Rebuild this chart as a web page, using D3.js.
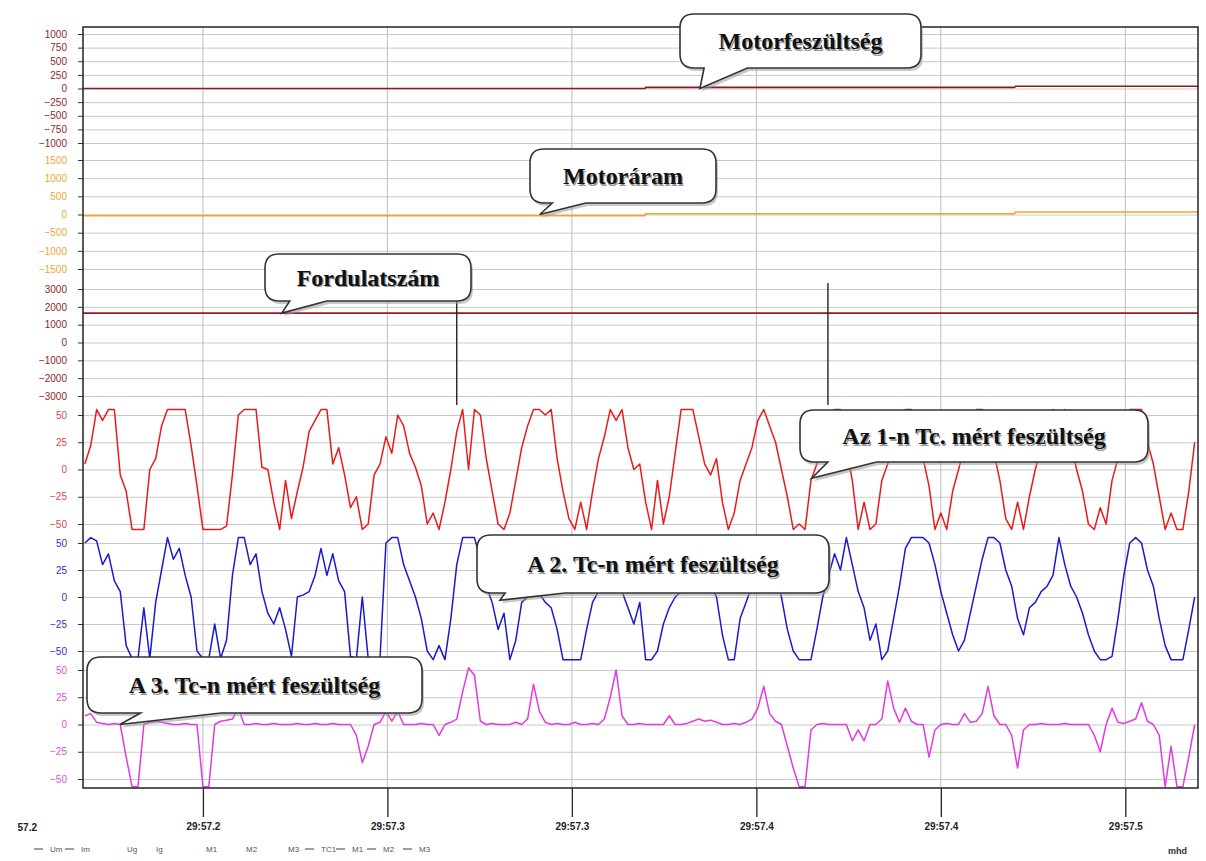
<!DOCTYPE html>
<html>
<head>
<meta charset="utf-8">
<script src="https://cdn.jsdelivr.net/npm/d3@7"></script>
<style>
  body { margin: 0; background: #fff; }
  svg { display: block; }
</style>
</head>
<body>
<div id="my_dataviz"></div>
<script>
// ---- time axis (seconds inside minute 29) ----
var timeDomain = [57.1675, 57.4697];
var timeTicks = [57.2, 57.25, 57.3, 57.35, 57.4, 57.45];
var sampleStart = 57.168, sampleStep = 0.0016;   // Tc channels are sampled on this grid

// ---- slow channels (time, value) ----
var motorTimes   = [57.1675, 57.3198, 57.3200, 57.4200, 57.4202, 57.4697];
var motorVoltage = [0, 0, 20, 20, 40, 40];
var motorCurrent = [-30, -30, 20, 20, 70, 70];
var speedTimes   = [57.1675, 57.4697];
var speedValues  = [1650, 1650];

// ---- thermocouple channels, one value per sample ----
var tc1 = [5,22,55,45,55,55,-5,-20,-55,-55,
  -55,0,10,40,55,55,55,55,22,-15,
  -55,-55,-55,-55,-52,-5,50,55,55,55,
  2,0,-30,-55,-10,-45,-20,3,35,45,
  55,55,5,20,-5,-35,-25,-55,-50,-5,
  5,30,15,50,40,15,2,-15,-50,-40,
  -55,-30,0,35,55,0,55,50,10,-20,
  -50,-55,-40,-10,20,40,55,55,50,55,
  10,-20,-45,-55,-30,-55,-20,10,30,55,
  45,55,20,0,5,-30,-55,-10,-50,-25,
  15,55,55,55,30,5,-5,10,-30,-55,
  -40,-10,5,20,45,55,40,25,0,-25,
  -55,-50,-55,-10,5,30,50,55,55,20,
  -10,-55,-30,-55,-50,-10,5,25,45,55,
  55,40,10,-15,-55,-40,-55,-20,0,20,
  40,55,55,50,15,-10,-45,-55,-30,-55,
  -25,0,20,40,55,50,55,25,0,-20,
  -50,-55,-35,-50,-10,10,35,55,55,55,
  25,5,-25,-55,-40,-55,-55,-20,25];

var tc2 = [50,55,52,30,40,15,5,-45,-57,-57,
  -10,-57,-5,25,55,35,45,20,0,-50,
  -57,-57,-25,-57,-40,20,55,55,30,40,
  5,-15,-25,-10,-30,-55,0,2,5,20,
  45,20,40,15,5,-55,-57,0,-57,-57,
  -57,50,55,55,30,15,0,-20,-50,-58,
  -45,-58,-20,30,55,55,55,35,10,-5,
  -30,-15,-58,-40,-5,0,5,3,-5,-10,
  -30,-58,-58,-58,-58,-30,-5,5,10,15,
  10,5,-10,-25,-5,-58,-58,-50,-25,-10,
  0,5,10,20,30,20,10,0,-35,-58,
  -58,-20,-5,10,20,35,45,20,0,-30,
  -50,-58,-58,-58,-30,0,20,40,25,55,
  30,5,-10,-40,-25,-58,-50,-20,10,45,
  55,55,55,50,30,5,-15,-35,-50,-40,
  -15,10,35,55,55,50,25,10,-20,-35,
  -10,-5,5,10,20,55,30,10,0,-15,
  -35,-50,-58,-58,-55,-20,20,50,55,50,
  25,10,-20,-45,-58,-58,-58,-30,0];

var tc3 = [8,10,2,1,0,1,0,-30,-57,-57,
  0,2,3,2,1,0,0,1,0,0,
  -57,-57,0,3,4,5,15,0,0,1,
  0,0,1,0,0,0,1,0,0,1,
  0,0,1,0,0,0,-10,-35,-20,0,
  2,12,3,12,0,0,0,1,0,0,
  -10,0,2,5,30,52,45,3,0,1,
  0,0,0,2,0,5,37,12,2,0,
  1,0,0,2,0,0,1,0,5,25,
  50,8,0,0,1,0,0,0,0,8,
  0,0,1,3,5,3,4,2,0,0,
  1,0,2,5,15,35,10,3,0,-20,
  -40,-57,-57,-5,0,1,0,0,0,0,
  -15,-5,-15,0,0,5,40,15,2,15,
  3,0,0,-30,-5,0,1,0,0,10,
  2,3,10,35,8,0,0,-10,-40,-5,
  0,0,1,0,0,0,1,0,0,0,
  0,-10,-25,0,15,2,1,3,5,20,
  3,0,-10,-57,-20,-57,-57,-30,0];

// ---- axis ticks ----
var voltTicks  = [1000, 750, 500, 250, 0, -250, -500, -750, -1000];
var currTicks  = [1500, 1000, 500, 0, -500, -1000, -1500];
var speedTicks = [3000, 2000, 1000, 0, -1000, -2000, -3000];
var tcTicks    = [50, 25, 0, -25, -50];

// ---- annotations ----
var calloutTexts  = ["Motorfeszültség", "Motoráram", "Fordulatszám",
                     "Az 1-n Tc. mért feszültség", "A 2. Tc-n mért feszültség", "A 3. Tc-n mért feszültség"];
var calloutPanels = ["volt", "curr", "speed", "tc1", "tc2", "tc3"];
var calloutTipTimes  = [57.3347, 57.2913, 57.2214, 57.3650, 57.2805, 57.1775];
var calloutTipValues = [0, 0, 1650, -8, -3, 0];
var markerTimes = [57.2688, 57.3694];
var markerTops  = [2380, 3330];   // in Fordulatszám units
var markerBottom = -3500;

var legendLabels = ["Um", "Im", "Ug", "Ig", "M1", "M2", "M3", "TC1", "M1", "M2", "M3"];
var legendSwatch = [true, true, false, false, false, false, false, true, true, true, true];

// ---- layout ----
var width = 1206, height = 861;
var plot = {left: 83, right: 1198, top: 27, bottom: 788};

var panels = [
  {key: "volt",  top: 34,  bottom: 143, domain: [-1000, 1000], ticks: voltTicks,  label: "#8e1f2e", line: "#8b1c1c"},
  {key: "curr",  top: 160, bottom: 269, domain: [-1500, 1500], ticks: currTicks,  label: "#f2a531", line: "#f0a52a"},
  {key: "speed", top: 289, bottom: 396, domain: [-3000, 3000], ticks: speedTicks, label: "#8e1f2e", line: "#9a1a22"},
  {key: "tc1",   top: 415, bottom: 524, domain: [-50, 50],     ticks: tcTicks,    label: "#e04545", line: "#ea1a1a"},
  {key: "tc2",   top: 543, bottom: 651, domain: [-50, 50],     ticks: tcTicks,    label: "#3232c0", line: "#1a1ad0"},
  {key: "tc3",   top: 670, bottom: 779, domain: [-50, 50],     ticks: tcTicks,    label: "#e050e0", line: "#e23ae2"}
];
var yScale = {};
panels.forEach(function(p) {
  yScale[p.key] = d3.scaleLinear().domain(p.domain).range([p.bottom, p.top]);
});

var calloutBoxes = [
  {x: 680, y: 14,  w: 241, h: 54, t0: 0.10, t1: 0.28},
  {x: 530, y: 149, w: 186, h: 54, t0: 0.12, t1: 0.30},
  {x: 265, y: 254, w: 206, h: 47, t0: 0.12, t1: 0.30},
  {x: 800, y: 410, w: 348, h: 52, t0: 0.08, t1: 0.22},
  {x: 477, y: 535, w: 352, h: 58, t0: 0.08, t1: 0.25},
  {x: 87,  y: 657, w: 335, h: 56, t0: 0.16, t1: 0.40}
];
var legendX = [50, 81, 127, 156, 206, 246, 288, 321, 352, 383, 419];

var svg = d3.select("#my_dataviz")
  .append("svg")
  .attr("width", width)
  .attr("height", height);

var x = d3.scaleLinear().domain(timeDomain).range([plot.left, plot.right]);

svg.append("defs").append("clipPath").attr("id", "plotclip")
  .append("rect")
  .attr("x", plot.left).attr("y", plot.top)
  .attr("width", plot.right - plot.left).attr("height", plot.bottom - plot.top);

// horizontal grid + left axes
panels.forEach(function(p) {
  svg.append("g")
    .attr("transform", "translate(" + plot.left + ",0)")
    .call(d3.axisLeft(yScale[p.key]).tickValues(p.ticks).tickSize(-(plot.right - plot.left)).tickFormat(""))
    .call(function(g) {
      g.select(".domain").remove();
      g.selectAll("line").attr("stroke", "#c9c9c9");
    });

  svg.append("g")
    .attr("transform", "translate(" + plot.left + ",0)")
    .call(d3.axisLeft(yScale[p.key]).tickValues(p.ticks).tickSize(5).tickPadding(11).tickFormat(d3.format("d")))
    .call(function(g) {
      g.select(".domain").remove();
      g.selectAll("line").attr("stroke", "#333");
      g.selectAll("text")
        .attr("fill", p.label)
        .style("font-family", "Liberation Sans, Arial, sans-serif")
        .style("font-size", "10px");
    });
});

// vertical grid
svg.append("g").selectAll("line")
  .data(timeTicks)
  .enter()
  .append("line")
    .attr("x1", function(d) { return x(d); })
    .attr("x2", function(d) { return x(d); })
    .attr("y1", plot.top)
    .attr("y2", plot.bottom)
    .attr("stroke", "#bdbdbd");

// bottom time axis
svg.append("g")
  .attr("transform", "translate(0," + plot.bottom + ")")
  .call(d3.axisBottom(x).tickValues(timeTicks).tickSize(29).tickPadding(6)
    .tickFormat(function(d) { return "29:" + d.toFixed(1); }))
  .call(function(g) {
    g.select(".domain").remove();
    g.selectAll("line").attr("stroke", "#222").attr("stroke-width", 1.3);
    g.selectAll("text")
      .attr("fill", "#222")
      .style("font-family", "Liberation Sans, Arial, sans-serif")
      .style("font-size", "10px")
      .style("font-weight", "bold");
  });

// left edge label, the rest of it falls outside the page
svg.append("text")
  .attr("x", 37)
  .attr("y", 831)
  .attr("text-anchor", "end")
  .attr("fill", "#222")
  .style("font-family", "Liberation Sans, Arial, sans-serif")
  .style("font-size", "10px")
  .style("font-weight", "bold")
  .text(timeDomain[0].toFixed(1));

// ---- series ----
var lines = svg.append("g").attr("clip-path", "url(#plotclip)");

function pairs(times, values) {
  return values.map(function(v, i) { return {t: times[i], v: v}; });
}
function sampled(values) {
  return values.map(function(v, i) { return {t: sampleStart + i * sampleStep, v: v}; });
}

var seriesData = {
  volt: pairs(motorTimes, motorVoltage),
  curr: pairs(motorTimes, motorCurrent),
  speed: pairs(speedTimes, speedValues),
  tc1: sampled(tc1),
  tc2: sampled(tc2),
  tc3: sampled(tc3)
};

panels.forEach(function(p) {
  var y = yScale[p.key];
  lines.append("path")
    .datum(seriesData[p.key])
    .attr("fill", "none")
    .attr("stroke", p.line)
    .attr("stroke-width", p.key.indexOf("tc") === 0 ? 1.5 : 1.6)
    .attr("stroke-linejoin", "round")
    .attr("d", d3.line()
      .x(function(d) { return x(d.t); })
      .y(function(d) { return y(d.v); })
    );
});

// frame
svg.append("rect")
  .attr("x", plot.left).attr("y", plot.top)
  .attr("width", plot.right - plot.left).attr("height", plot.bottom - plot.top)
  .attr("fill", "none")
  .attr("stroke", "#222")
  .attr("stroke-width", 1.5);

// cursor markers
svg.append("g").selectAll("line")
  .data(markerTimes)
  .enter()
  .append("line")
    .attr("x1", function(d) { return x(d); })
    .attr("x2", function(d) { return x(d); })
    .attr("y1", function(d, i) { return yScale.speed(markerTops[i]); })
    .attr("y2", yScale.speed(markerBottom))
    .attr("stroke", "#222")
    .attr("stroke-width", 1.4);

// ---- callouts ----
function bubblePath(b, tip) {
  var r = 14, x0 = b.x, y0 = b.y, x1 = b.x + b.w, y1 = b.y + b.h;
  var ta = x0 + b.w * b.t0, tb = x0 + b.w * b.t1;
  return "M" + (x0 + r) + "," + y0 +
    " H" + (x1 - r) + " Q" + x1 + "," + y0 + " " + x1 + "," + (y0 + r) +
    " V" + (y1 - r) + " Q" + x1 + "," + y1 + " " + (x1 - r) + "," + y1 +
    " H" + tb + " L" + tip[0] + "," + tip[1] + " L" + ta + "," + y1 +
    " H" + (x0 + r) + " Q" + x0 + "," + y1 + " " + x0 + "," + (y1 - r) +
    " V" + (y0 + r) + " Q" + x0 + "," + y0 + " " + (x0 + r) + "," + y0 + "Z";
}

var callouts = svg.append("g");
calloutTexts.forEach(function(txt, i) {
  var b = calloutBoxes[i];
  var tip = [x(calloutTipTimes[i]), yScale[calloutPanels[i]](calloutTipValues[i])];
  var g = callouts.append("g");
  g.append("path")
    .attr("d", bubblePath(b, tip))
    .attr("transform", "translate(2,3)")
    .attr("fill", "#9a9a9a")
    .attr("opacity", 0.55);
  g.append("path")
    .attr("d", bubblePath(b, tip))
    .attr("fill", "#fff")
    .attr("stroke", "#333")
    .attr("stroke-width", 1.6);
  [["#9a9a9a", 1.2], ["#111", 0]].forEach(function(s) {
    g.append("text")
      .attr("x", b.x + b.w / 2 + s[1])
      .attr("y", b.y + b.h / 2 + s[1])
      .attr("dy", "0.35em")
      .attr("text-anchor", "middle")
      .attr("fill", s[0])
      .style("font-family", "Liberation Serif, Times New Roman, serif")
      .style("font-size", "24px")
      .style("font-weight", "bold")
      .text(txt);
  });
});

// ---- legend ----
var legend = svg.append("g").attr("transform", "translate(0,852)");
legendLabels.forEach(function(lab, i) {
  if (legendSwatch[i]) {
    legend.append("line")
      .attr("x1", legendX[i] - 16).attr("x2", legendX[i] - 7)
      .attr("y1", -3).attr("y2", -3)
      .attr("stroke", "#8fa88f").attr("stroke-width", 2);
  }
  legend.append("text")
    .attr("x", legendX[i])
    .attr("fill", "#555")
    .style("font-family", "Liberation Sans, Arial, sans-serif")
    .style("font-size", "8px")
    .text(lab);
});

svg.append("text")
  .attr("x", 1168).attr("y", 854)
  .attr("fill", "#333")
  .style("font-family", "Liberation Sans, Arial, sans-serif")
  .style("font-size", "9px")
  .style("font-weight", "bold")
  .text("mhd");
</script>
</body>
</html>
